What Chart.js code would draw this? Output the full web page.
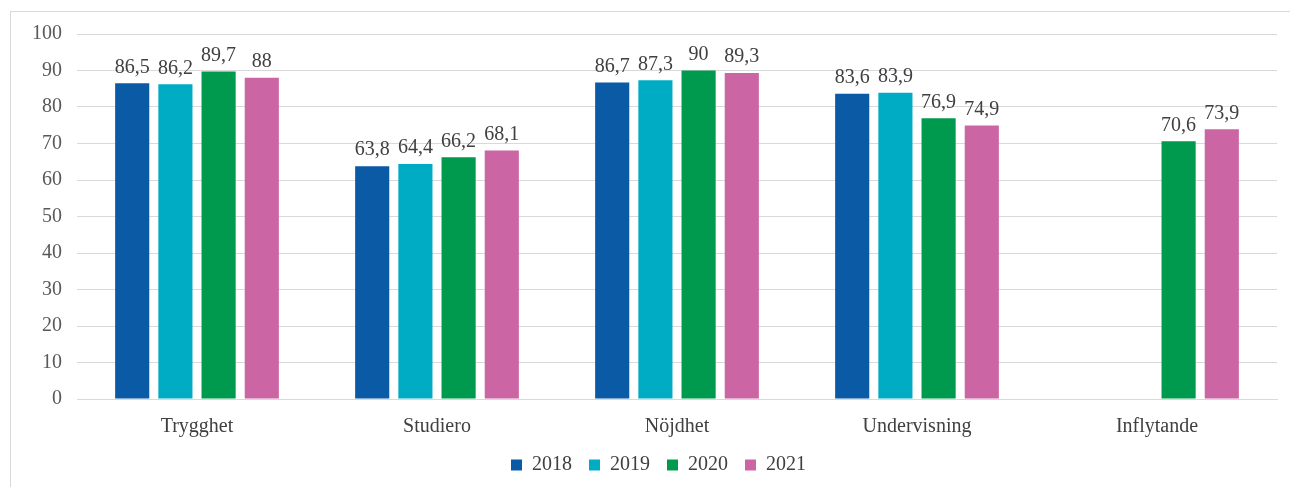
<!DOCTYPE html>
<html>
<head>
<meta charset="utf-8">
<script src="https://cdn.jsdelivr.net/npm/chart.js@4.4.1/dist/chart.umd.min.js"></script>
<style>
  html, body { margin: 0; padding: 0; background: #fff; }
  #frame { position: absolute; left: 10px; top: 11px; width: 1300px; height: 500px;
           border-left: 1px solid #d9d9d9; border-top: 1px solid #d9d9d9; }
  #wrap { position: absolute; left: 0; top: 0; width: 1290px; height: 487px; }
</style>
</head>
<body>
<div id="frame"></div>
<div id="wrap"><canvas id="chart"></canvas></div>
<script>
// kategorier och värden per år
const categories = ['Trygghet', 'Studiero', 'Nöjdhet', 'Undervisning', 'Inflytande'];
const years = ['2018', '2019', '2020', '2021'];
const values2018 = [86.5, 63.8, 86.7, 83.6, null];
const values2019 = [86.2, 64.4, 87.3, 83.9, null];
const values2020 = [89.7, 66.2, 90, 76.9, 70.6];
const values2021 = [88, 68.1, 89.3, 74.9, 73.9];
const yTicks = [0, 10, 20, 30, 40, 50, 60, 70, 80, 90, 100];

const colors = ['#0b5aa6', '#00acc4', '#009a4e', '#cc65a4'];
const serif = '"Liberation Serif", "Times New Roman", serif';

// etiketter ovanför staplarna
const barLabels = {
  id: 'barLabels',
  afterLayout(chart) {
    // flytta förklaringen lite åt höger som i originalet
    if (chart.legend) { chart.legend.left += 20; chart.legend.right += 20; }
  },
  afterDatasetsDraw(chart) {
    const ctx = chart.ctx;
    ctx.save();
    ctx.font = '20px ' + serif;
    ctx.fillStyle = '#404040';
    ctx.textAlign = 'center';
    ctx.textBaseline = 'bottom';
    chart.data.datasets.forEach(function(ds, i) {
      const meta = chart.getDatasetMeta(i);
      meta.data.forEach(function(bar, j) {
        const v = ds.data[j];
        if (v === null || v === undefined) return;
        ctx.fillText(String(v).replace('.', ','), bar.x, bar.y - 6);
      });
    });
    ctx.restore();
  }
};

const allValues = [values2018, values2019, values2020, values2021];
const datasets = years.map(function(y, i) {
  return {
    label: y,
    data: allValues[i],
    backgroundColor: colors[i],
    borderWidth: 0,
    categoryPercentage: 0.72,
    barPercentage: 0.79
  };
});

new Chart(document.getElementById('chart'), {
  type: 'bar',
  data: { labels: categories, datasets: datasets },
  plugins: [barLabels],
  options: {
    responsive: true,
    maintainAspectRatio: false,
    animation: false,
    layout: { padding: { top: 34, right: 13, left: 0, bottom: 2 } },
    plugins: {
      legend: {
        position: 'bottom',
        labels: {
          boxWidth: 11, boxHeight: 11, padding: 17,
          color: '#404040',
          font: { family: serif, size: 20 }
        }
      },
      tooltip: { enabled: false }
    },
    scales: {
      x: {
        afterFit: function(scale) { scale.height = 39; },
        grid: { display: false },
        border: { color: '#d9d9d9' },
        ticks: { color: '#404040', padding: 8, font: { family: serif, size: 20 } }
      },
      y: {
        min: 0, max: 100,
        afterFit: function(scale) { scale.width = 77; },
        afterBuildTicks: function(scale) { scale.ticks = yTicks.map(function(v) { return { value: v }; }); },
        grid: { color: '#d9d9d9', drawTicks: false },
        border: { display: false },
        ticks: { color: '#595959', padding: 15, font: { family: serif, size: 20 } }
      }
    }
  }
});
</script>
</body>
</html>
